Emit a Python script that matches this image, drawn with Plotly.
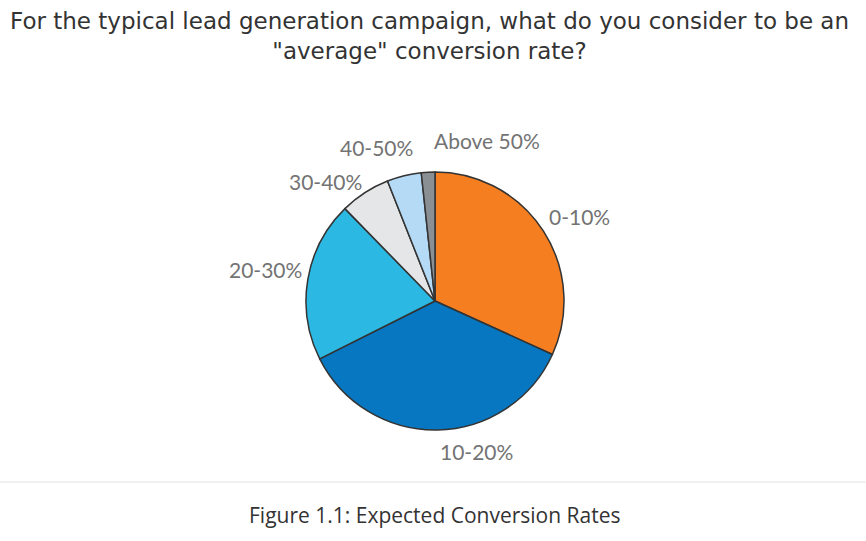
import plotly.graph_objects as go

W, H = 866, 541

labels = ["0-10%", "10-20%", "20-30%", "30-40%", "40-50%", "Above 50%"]
values = [31.8, 35.8, 20.1, 6.3, 4.3, 1.7]
colors = ["#F47E20", "#0677C0", "#2BB8E2", "#E5E6E7", "#B5DAF6", "#8A8F94"]

# label anchor positions (pixels from top-left), placed as in the reference
label_px = [(579, 217), (476, 451), (265, 269), (325, 181), (376, 147), (487, 141)]

title_text = "For the typical lead generation campaign, what do you consider to be an<br>\"average\" conversion rate?"
caption_text = "Figure 1.1: Expected Conversion Rates"

cx, cy, r = 435, 301, 129

fig = go.Figure(go.Pie(
    labels=labels,
    values=values,
    sort=False,
    direction="clockwise",
    rotation=0,
    marker=dict(colors=colors, line=dict(color="#333333", width=1.5)),
    textinfo="none",
    domain=dict(x=[(cx - r) / W, (cx + r) / W], y=[1 - (cy + r) / H, 1 - (cy - r) / H]),
    showlegend=False,
    hoverinfo="label+percent",
))

for lab, (px, py) in zip(labels, label_px):
    fig.add_annotation(text=lab, x=px / W, y=1 - py / H, xref="paper", yref="paper",
                       xanchor="center", yanchor="middle", showarrow=False,
                       font=dict(family="Lato", size=21, color="#737373"))

fig.add_annotation(text=title_text, x=429 / W, y=1 - 6 / H, xref="paper", yref="paper",
                   xanchor="center", yanchor="top", showarrow=False,
                   font=dict(family="DejaVu Sans", size=23, color="#333333"))
fig.add_annotation(text=caption_text, x=435 / W, y=1 - 515 / H, xref="paper", yref="paper",
                   xanchor="center", yanchor="middle", showarrow=False,
                   font=dict(family="Open Sans", size=21, color="#333333"))
fig.add_shape(type="line", xref="paper", yref="paper", x0=0, x1=1,
              y0=1 - 482 / H, y1=1 - 482 / H, line=dict(color="#E3E3E3", width=1))

fig.update_layout(width=W, height=H, margin=dict(l=0, r=0, t=0, b=0),
                  paper_bgcolor="white", plot_bgcolor="white")
fig.write_html("out.html", config={"displayModeBar": False},
               post_script="document.body.style.margin='0';document.body.style.overflow='hidden';")
